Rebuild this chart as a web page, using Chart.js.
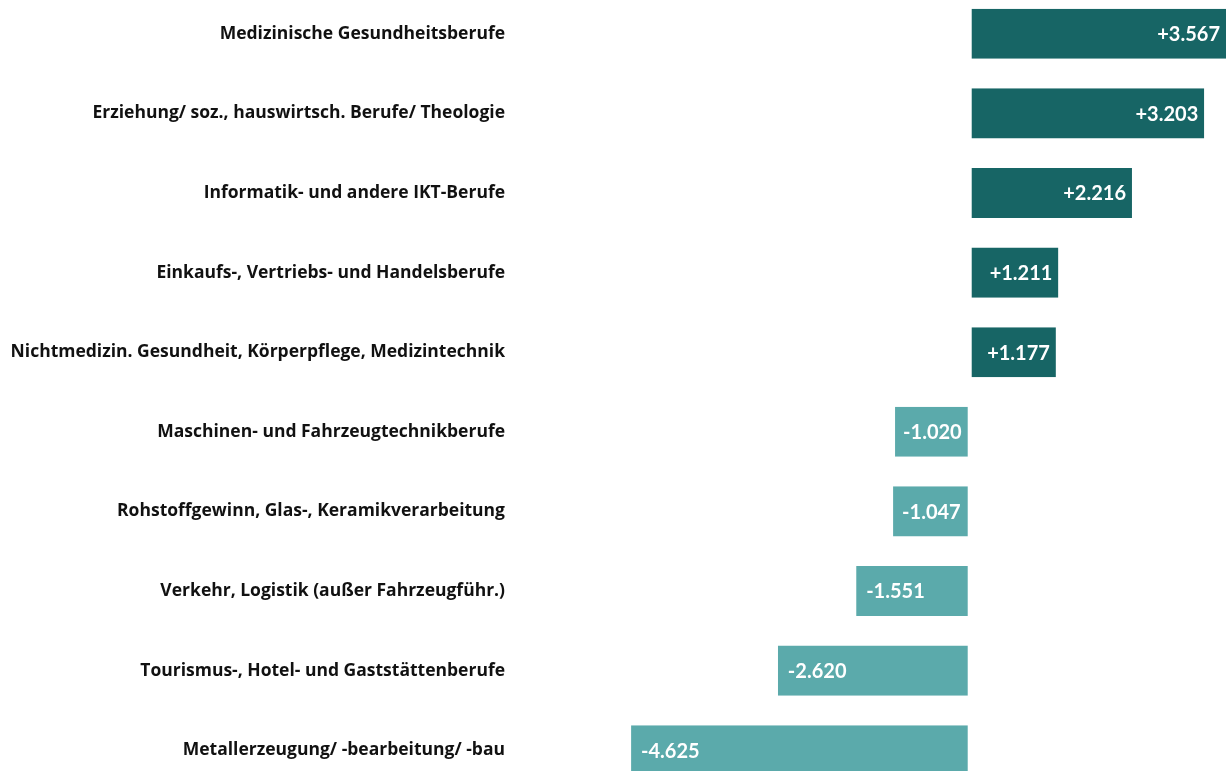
<!DOCTYPE html>
<html>
<head>
<meta charset="utf-8">
<script src="https://cdn.jsdelivr.net/npm/chart.js@4"></script>
<style>
  html, body { margin: 0; padding: 0; background: #fff; }
  #wrap { position: relative; width: 1226px; height: 771px; overflow: hidden; }
  #wrap canvas { position: absolute; left: 0; top: -6px; }
</style>
</head>
<body>
<div id="wrap">
  <canvas id="chart" width="1226" height="796" style="width:1226px;height:796px"></canvas>
</div>
<script>
const categories = [
  "Medizinische Gesundheitsberufe",
  "Erziehung/ soz., hauswirtsch. Berufe/ Theologie",
  "Informatik- und andere IKT-Berufe",
  "Einkaufs-, Vertriebs- und Handelsberufe",
  "Nichtmedizin. Gesundheit, Körperpflege, Medizintechnik",
  "Maschinen- und Fahrzeugtechnikberufe",
  "Rohstoffgewinn, Glas-, Keramikverarbeitung",
  "Verkehr, Logistik (außer Fahrzeugführ.)",
  "Tourismus-, Hotel- und Gaststättenberufe",
  "Metallerzeugung/ -bearbeitung/ -bau"
];
const values = [3567, 3203, 2216, 1211, 1177, -1020, -1047, -1551, -2620, -4625];
const valueLabels = ["+3.567", "+3.203", "+2.216", "+1.211", "+1.177", "-1.020", "-1.047", "-1.551", "-2.620", "-4.625"];

const darkTeal = "#176565";
const lightTeal = "#5baaab";

// draws the numbers inside the bars
const barValues = {
  id: "barValues",
  afterDatasetsDraw(chart) {
    const ctx = chart.ctx;
    const meta = chart.getDatasetMeta(0);
    ctx.save();
    ctx.font = "bold 20px Lato";
    ctx.fillStyle = "#ffffff";
    ctx.textBaseline = "middle";
    meta.data.forEach((bar, i) => {
      const text = valueLabels[i];
      const w = ctx.measureText(text).width;
      const left = Math.min(bar.x, bar.base);
      const right = Math.max(bar.x, bar.base);
      let x;
      if (w + 20 > right - left) {
        ctx.textAlign = "center";
        x = (left + right) / 2;
      } else if (values[i] >= 0) {
        ctx.textAlign = "right";
        x = Math.min(bar.x, chart.chartArea.right) - 6;
      } else {
        ctx.textAlign = "left";
        x = bar.x + 10;
      }
      ctx.fillText(text, x, bar.y + 1);
    });
    ctx.restore();
  }
};

new Chart(document.getElementById("chart").getContext("2d"), {
  type: "bar",
  data: {
    labels: categories,
    datasets: [{
      data: values,
      backgroundColor: values.map(v => v >= 0 ? darkTeal : lightTeal),
      borderColor: "#ffffff",
      borderWidth: { left: 2, right: 2, top: 0, bottom: 0 },
      borderSkipped: "end",
      categoryPercentage: 1,
      barPercentage: 0.63
    }]
  },
  options: {
    indexAxis: "y",
    responsive: false,
    animation: false,
    layout: { padding: 0 },
    plugins: {
      legend: { display: false },
      tooltip: { enabled: false }
    },
    scales: {
      x: {
        display: false,
        min: -6210,
        max: 3500
      },
      y: {
        grid: { display: false, drawTicks: false },
        border: { display: false },
        afterFit(scale) {
          scale.width = 515;
          scale.paddingTop = 0;
          scale.paddingBottom = 0;
        },
        ticks: {
          padding: 10,
          color: "#111111",
          font: { family: "Open Sans", weight: "bold", size: 17.5 }
        }
      }
    }
  },
  plugins: [barValues]
});
</script>
</body>
</html>
